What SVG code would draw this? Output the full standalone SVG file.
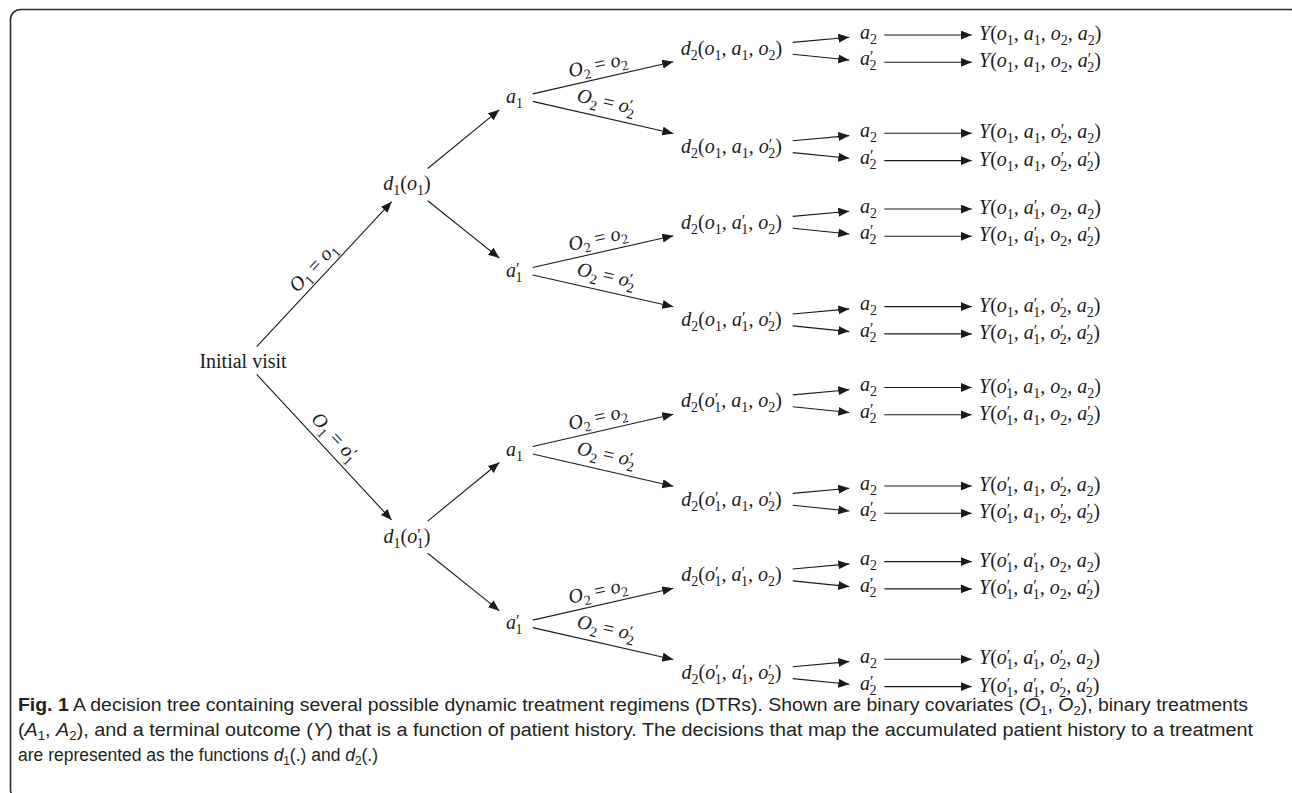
<svg xmlns="http://www.w3.org/2000/svg" width="1292" height="793" viewBox="0 0 1292 793">
<defs>
<marker id="ah" markerWidth="12" markerHeight="10" refX="11" refY="4.5" orient="auto" markerUnits="userSpaceOnUse"><path d="M0,0 L11,4.5 L0,9 Z" fill="#1a1a1a"/></marker>
</defs>
<style>
.m{font-family:"Liberation Serif","Times New Roman",serif;font-size:20px;font-style:italic;fill:#1a1a1a}
.up{font-family:"Liberation Serif","Times New Roman",serif;font-size:20px;fill:#1a1a1a}
.rm{font-style:normal}
.sb{font-size:14px;font-style:normal;baseline-shift:-5px}
.pr{font-size:16px;font-style:normal;baseline-shift:3px}
.e{stroke:#1a1a1a;stroke-width:1.1;fill:none;marker-end:url(#ah)}
.cap{font-family:"Liberation Sans",Arial,sans-serif;font-size:18px;fill:#231f20}
.cs{font-size:12px;baseline-shift:-4px}
.frame{fill:none;stroke:#2a2a2a;stroke-width:1.6}
</style>
<rect class="frame" x="10.5" y="9.5" width="1289.5" height="790" rx="10"/>
<g id="connectors">
<path class="e" d="M256.7,346.7 L391.7,201.7"/>
<path class="e" d="M256.7,374.3 L391.7,520"/>
<path class="e" d="M427.7,168.5 L499.3,109.85"/>
<path class="e" d="M427.7,200.7 L499.3,258"/>
<path class="e" d="M427.7,521.1 L499.3,462.45"/>
<path class="e" d="M427.7,553.3 L499.3,610.65"/>
<path class="e" d="M532.7,93.85 L673.3,61.7"/>
<path class="e" d="M532.7,101.35 L673.3,133.5"/>
<path class="e" d="M532.7,267.5 L673.3,235.7"/>
<path class="e" d="M532.7,275 L673.3,306.8"/>
<path class="e" d="M532.7,446.45 L673.3,414.2"/>
<path class="e" d="M532.7,453.95 L673.3,486.2"/>
<path class="e" d="M532.7,620.15 L673.3,588.3"/>
<path class="e" d="M532.7,627.65 L673.3,659.5"/>
<path class="e" d="M792.7,42.4 L849.3,37.3"/>
<path class="e" d="M792.7,54.3 L849.3,60"/>
<path class="e" d="M792.7,140.7 L849.3,135.6"/>
<path class="e" d="M792.7,152.6 L849.3,158.3"/>
<path class="e" d="M792.7,216.4 L849.3,211.3"/>
<path class="e" d="M792.7,228.3 L849.3,234"/>
<path class="e" d="M792.7,314 L849.3,308.9"/>
<path class="e" d="M792.7,325.9 L849.3,331.6"/>
<path class="e" d="M792.7,394.9 L849.3,389.8"/>
<path class="e" d="M792.7,406.8 L849.3,412.5"/>
<path class="e" d="M792.7,493.4 L849.3,488.3"/>
<path class="e" d="M792.7,505.3 L849.3,511"/>
<path class="e" d="M792.7,569 L849.3,563.9"/>
<path class="e" d="M792.7,580.9 L849.3,586.6"/>
<path class="e" d="M792.7,666.7 L849.3,661.6"/>
<path class="e" d="M792.7,678.6 L849.3,684.3"/>
<path class="e" d="M884.3,35 L971.7,35"/>
<path class="e" d="M884.3,62.3 L971.7,62.3"/>
<path class="e" d="M884.3,133.3 L971.7,133.3"/>
<path class="e" d="M884.3,160.6 L971.7,160.6"/>
<path class="e" d="M884.3,209 L971.7,209"/>
<path class="e" d="M884.3,236.3 L971.7,236.3"/>
<path class="e" d="M884.3,306.6 L971.7,306.6"/>
<path class="e" d="M884.3,333.9 L971.7,333.9"/>
<path class="e" d="M884.3,387.5 L971.7,387.5"/>
<path class="e" d="M884.3,414.8 L971.7,414.8"/>
<path class="e" d="M884.3,486 L971.7,486"/>
<path class="e" d="M884.3,513.3 L971.7,513.3"/>
<path class="e" d="M884.3,561.6 L971.7,561.6"/>
<path class="e" d="M884.3,588.9 L971.7,588.9"/>
<path class="e" d="M884.3,659.3 L971.7,659.3"/>
<path class="e" d="M884.3,686.6 L971.7,686.6"/>
<g id="edge-labels">
<text class="m" transform="translate(317.7,271.4) rotate(-47)" text-anchor="middle">O<tspan class="sb">1</tspan><tspan class="rm"> = </tspan>o<tspan class="sb">1</tspan></text>
<text class="m" transform="translate(330.3,441.4) rotate(47.2)" text-anchor="middle">O<tspan class="sb">1</tspan><tspan class="rm"> = </tspan>o<tspan class="pr">′</tspan><tspan class="sb" dx="-4">1</tspan></text>
<text class="m" transform="translate(599.1,70.85) rotate(-12.8)" text-anchor="middle">O<tspan class="sb">2</tspan><tspan class="rm"> = </tspan>o<tspan class="sb">2</tspan></text>
<text class="m" transform="translate(604.9,107.85) rotate(12.8)" text-anchor="middle">O<tspan class="sb">2</tspan><tspan class="rm"> = </tspan>o<tspan class="pr">′</tspan><tspan class="sb" dx="-4">2</tspan></text>
<text class="m" transform="translate(599.1,244.5) rotate(-12.8)" text-anchor="middle">O<tspan class="sb">2</tspan><tspan class="rm"> = </tspan>o<tspan class="sb">2</tspan></text>
<text class="m" transform="translate(604.9,281.5) rotate(12.8)" text-anchor="middle">O<tspan class="sb">2</tspan><tspan class="rm"> = </tspan>o<tspan class="pr">′</tspan><tspan class="sb" dx="-4">2</tspan></text>
<text class="m" transform="translate(599.1,423.45) rotate(-12.8)" text-anchor="middle">O<tspan class="sb">2</tspan><tspan class="rm"> = </tspan>o<tspan class="sb">2</tspan></text>
<text class="m" transform="translate(604.9,460.45) rotate(12.8)" text-anchor="middle">O<tspan class="sb">2</tspan><tspan class="rm"> = </tspan>o<tspan class="pr">′</tspan><tspan class="sb" dx="-4">2</tspan></text>
<text class="m" transform="translate(599.1,597.15) rotate(-12.8)" text-anchor="middle">O<tspan class="sb">2</tspan><tspan class="rm"> = </tspan>o<tspan class="sb">2</tspan></text>
<text class="m" transform="translate(604.9,634.15) rotate(12.8)" text-anchor="middle">O<tspan class="sb">2</tspan><tspan class="rm"> = </tspan>o<tspan class="pr">′</tspan><tspan class="sb" dx="-4">2</tspan></text>
</g>
</g>
<g id="n-initial"><text class="up" x="243" y="368" text-anchor="middle">Initial visit</text></g>
<g id="n-d1-o1"><text class="m" x="407" y="190" text-anchor="middle">d<tspan class="sb">1</tspan><tspan class="rm">(</tspan>o<tspan class="sb">1</tspan><tspan class="rm">)</tspan></text></g>
<g id="n-d1-o1p"><text class="m" x="407" y="543" text-anchor="middle">d<tspan class="sb">1</tspan><tspan class="rm">(</tspan>o<tspan class="pr">′</tspan><tspan class="sb" dx="-4">1</tspan><tspan class="rm">)</tspan></text></g>
<g id="n-a1-A"><text class="m" x="506" y="102.5">a<tspan class="sb">1</tspan></text></g>
<g id="n-a1p-B"><text class="m" x="506" y="276.5">a<tspan class="pr">′</tspan><tspan class="sb" dx="-4">1</tspan></text></g>
<g id="n-a1-C"><text class="m" x="506" y="455.5">a<tspan class="sb">1</tspan></text></g>
<g id="n-a1p-D"><text class="m" x="506" y="629">a<tspan class="pr">′</tspan><tspan class="sb" dx="-4">1</tspan></text></g>
<g id="n-d2-g1"><text class="m" x="731.5" y="54.7" text-anchor="middle">d<tspan class="sb">2</tspan><tspan class="rm">(</tspan>o<tspan class="sb">1</tspan>, a<tspan class="sb">1</tspan>, o<tspan class="sb">2</tspan><tspan class="rm">)</tspan></text></g>
<g id="n-d2-g2"><text class="m" x="731.5" y="153" text-anchor="middle">d<tspan class="sb">2</tspan><tspan class="rm">(</tspan>o<tspan class="sb">1</tspan>, a<tspan class="sb">1</tspan>, o<tspan class="pr">′</tspan><tspan class="sb" dx="-4">2</tspan><tspan class="rm">)</tspan></text></g>
<g id="n-d2-g3"><text class="m" x="731.5" y="228.7" text-anchor="middle">d<tspan class="sb">2</tspan><tspan class="rm">(</tspan>o<tspan class="sb">1</tspan>, a<tspan class="pr">′</tspan><tspan class="sb" dx="-4">1</tspan>, o<tspan class="sb">2</tspan><tspan class="rm">)</tspan></text></g>
<g id="n-d2-g4"><text class="m" x="731.5" y="326.3" text-anchor="middle">d<tspan class="sb">2</tspan><tspan class="rm">(</tspan>o<tspan class="sb">1</tspan>, a<tspan class="pr">′</tspan><tspan class="sb" dx="-4">1</tspan>, o<tspan class="pr">′</tspan><tspan class="sb" dx="-4">2</tspan><tspan class="rm">)</tspan></text></g>
<g id="n-d2-g5"><text class="m" x="731.5" y="407.2" text-anchor="middle">d<tspan class="sb">2</tspan><tspan class="rm">(</tspan>o<tspan class="pr">′</tspan><tspan class="sb" dx="-4">1</tspan>, a<tspan class="sb">1</tspan>, o<tspan class="sb">2</tspan><tspan class="rm">)</tspan></text></g>
<g id="n-d2-g6"><text class="m" x="731.5" y="505.7" text-anchor="middle">d<tspan class="sb">2</tspan><tspan class="rm">(</tspan>o<tspan class="pr">′</tspan><tspan class="sb" dx="-4">1</tspan>, a<tspan class="sb">1</tspan>, o<tspan class="pr">′</tspan><tspan class="sb" dx="-4">2</tspan><tspan class="rm">)</tspan></text></g>
<g id="n-d2-g7"><text class="m" x="731.5" y="581.3" text-anchor="middle">d<tspan class="sb">2</tspan><tspan class="rm">(</tspan>o<tspan class="pr">′</tspan><tspan class="sb" dx="-4">1</tspan>, a<tspan class="pr">′</tspan><tspan class="sb" dx="-4">1</tspan>, o<tspan class="sb">2</tspan><tspan class="rm">)</tspan></text></g>
<g id="n-d2-g8"><text class="m" x="731.5" y="679" text-anchor="middle">d<tspan class="sb">2</tspan><tspan class="rm">(</tspan>o<tspan class="pr">′</tspan><tspan class="sb" dx="-4">1</tspan>, a<tspan class="pr">′</tspan><tspan class="sb" dx="-4">1</tspan>, o<tspan class="pr">′</tspan><tspan class="sb" dx="-4">2</tspan><tspan class="rm">)</tspan></text></g>
<g id="n-a2-row1"><text class="m" x="860" y="38.5">a<tspan class="sb">2</tspan></text></g>
<g id="n-a2p-row2"><text class="m" x="860" y="65.3">a<tspan class="pr">′</tspan><tspan class="sb" dx="-4">2</tspan></text></g>
<g id="n-a2-row3"><text class="m" x="860" y="136.8">a<tspan class="sb">2</tspan></text></g>
<g id="n-a2p-row4"><text class="m" x="860" y="163.6">a<tspan class="pr">′</tspan><tspan class="sb" dx="-4">2</tspan></text></g>
<g id="n-a2-row5"><text class="m" x="860" y="212.5">a<tspan class="sb">2</tspan></text></g>
<g id="n-a2p-row6"><text class="m" x="860" y="239.3">a<tspan class="pr">′</tspan><tspan class="sb" dx="-4">2</tspan></text></g>
<g id="n-a2-row7"><text class="m" x="860" y="310.1">a<tspan class="sb">2</tspan></text></g>
<g id="n-a2p-row8"><text class="m" x="860" y="336.9">a<tspan class="pr">′</tspan><tspan class="sb" dx="-4">2</tspan></text></g>
<g id="n-a2-row9"><text class="m" x="860" y="391">a<tspan class="sb">2</tspan></text></g>
<g id="n-a2p-row10"><text class="m" x="860" y="417.8">a<tspan class="pr">′</tspan><tspan class="sb" dx="-4">2</tspan></text></g>
<g id="n-a2-row11"><text class="m" x="860" y="489.5">a<tspan class="sb">2</tspan></text></g>
<g id="n-a2p-row12"><text class="m" x="860" y="516.3">a<tspan class="pr">′</tspan><tspan class="sb" dx="-4">2</tspan></text></g>
<g id="n-a2-row13"><text class="m" x="860" y="565.1">a<tspan class="sb">2</tspan></text></g>
<g id="n-a2p-row14"><text class="m" x="860" y="591.9">a<tspan class="pr">′</tspan><tspan class="sb" dx="-4">2</tspan></text></g>
<g id="n-a2-row15"><text class="m" x="860" y="662.8">a<tspan class="sb">2</tspan></text></g>
<g id="n-a2p-row16"><text class="m" x="860" y="689.6">a<tspan class="pr">′</tspan><tspan class="sb" dx="-4">2</tspan></text></g>
<g id="n-y1"><text class="m" x="979" y="40">Y<tspan class="rm">(</tspan>o<tspan class="sb">1</tspan>, a<tspan class="sb">1</tspan>, o<tspan class="sb">2</tspan>, a<tspan class="sb">2</tspan><tspan class="rm">)</tspan></text></g>
<g id="n-y2"><text class="m" x="979" y="67.3">Y<tspan class="rm">(</tspan>o<tspan class="sb">1</tspan>, a<tspan class="sb">1</tspan>, o<tspan class="sb">2</tspan>, a<tspan class="pr">′</tspan><tspan class="sb" dx="-4">2</tspan><tspan class="rm">)</tspan></text></g>
<g id="n-y3"><text class="m" x="979" y="138.3">Y<tspan class="rm">(</tspan>o<tspan class="sb">1</tspan>, a<tspan class="sb">1</tspan>, o<tspan class="pr">′</tspan><tspan class="sb" dx="-4">2</tspan>, a<tspan class="sb">2</tspan><tspan class="rm">)</tspan></text></g>
<g id="n-y4"><text class="m" x="979" y="165.6">Y<tspan class="rm">(</tspan>o<tspan class="sb">1</tspan>, a<tspan class="sb">1</tspan>, o<tspan class="pr">′</tspan><tspan class="sb" dx="-4">2</tspan>, a<tspan class="pr">′</tspan><tspan class="sb" dx="-4">2</tspan><tspan class="rm">)</tspan></text></g>
<g id="n-y5"><text class="m" x="979" y="214">Y<tspan class="rm">(</tspan>o<tspan class="sb">1</tspan>, a<tspan class="pr">′</tspan><tspan class="sb" dx="-4">1</tspan>, o<tspan class="sb">2</tspan>, a<tspan class="sb">2</tspan><tspan class="rm">)</tspan></text></g>
<g id="n-y6"><text class="m" x="979" y="241.3">Y<tspan class="rm">(</tspan>o<tspan class="sb">1</tspan>, a<tspan class="pr">′</tspan><tspan class="sb" dx="-4">1</tspan>, o<tspan class="sb">2</tspan>, a<tspan class="pr">′</tspan><tspan class="sb" dx="-4">2</tspan><tspan class="rm">)</tspan></text></g>
<g id="n-y7"><text class="m" x="979" y="311.6">Y<tspan class="rm">(</tspan>o<tspan class="sb">1</tspan>, a<tspan class="pr">′</tspan><tspan class="sb" dx="-4">1</tspan>, o<tspan class="pr">′</tspan><tspan class="sb" dx="-4">2</tspan>, a<tspan class="sb">2</tspan><tspan class="rm">)</tspan></text></g>
<g id="n-y8"><text class="m" x="979" y="338.9">Y<tspan class="rm">(</tspan>o<tspan class="sb">1</tspan>, a<tspan class="pr">′</tspan><tspan class="sb" dx="-4">1</tspan>, o<tspan class="pr">′</tspan><tspan class="sb" dx="-4">2</tspan>, a<tspan class="pr">′</tspan><tspan class="sb" dx="-4">2</tspan><tspan class="rm">)</tspan></text></g>
<g id="n-y9"><text class="m" x="979" y="392.5">Y<tspan class="rm">(</tspan>o<tspan class="pr">′</tspan><tspan class="sb" dx="-4">1</tspan>, a<tspan class="sb">1</tspan>, o<tspan class="sb">2</tspan>, a<tspan class="sb">2</tspan><tspan class="rm">)</tspan></text></g>
<g id="n-y10"><text class="m" x="979" y="419.8">Y<tspan class="rm">(</tspan>o<tspan class="pr">′</tspan><tspan class="sb" dx="-4">1</tspan>, a<tspan class="sb">1</tspan>, o<tspan class="sb">2</tspan>, a<tspan class="pr">′</tspan><tspan class="sb" dx="-4">2</tspan><tspan class="rm">)</tspan></text></g>
<g id="n-y11"><text class="m" x="979" y="491">Y<tspan class="rm">(</tspan>o<tspan class="pr">′</tspan><tspan class="sb" dx="-4">1</tspan>, a<tspan class="sb">1</tspan>, o<tspan class="pr">′</tspan><tspan class="sb" dx="-4">2</tspan>, a<tspan class="sb">2</tspan><tspan class="rm">)</tspan></text></g>
<g id="n-y12"><text class="m" x="979" y="518.3">Y<tspan class="rm">(</tspan>o<tspan class="pr">′</tspan><tspan class="sb" dx="-4">1</tspan>, a<tspan class="sb">1</tspan>, o<tspan class="pr">′</tspan><tspan class="sb" dx="-4">2</tspan>, a<tspan class="pr">′</tspan><tspan class="sb" dx="-4">2</tspan><tspan class="rm">)</tspan></text></g>
<g id="n-y13"><text class="m" x="979" y="566.6">Y<tspan class="rm">(</tspan>o<tspan class="pr">′</tspan><tspan class="sb" dx="-4">1</tspan>, a<tspan class="pr">′</tspan><tspan class="sb" dx="-4">1</tspan>, o<tspan class="sb">2</tspan>, a<tspan class="sb">2</tspan><tspan class="rm">)</tspan></text></g>
<g id="n-y14"><text class="m" x="979" y="593.9">Y<tspan class="rm">(</tspan>o<tspan class="pr">′</tspan><tspan class="sb" dx="-4">1</tspan>, a<tspan class="pr">′</tspan><tspan class="sb" dx="-4">1</tspan>, o<tspan class="sb">2</tspan>, a<tspan class="pr">′</tspan><tspan class="sb" dx="-4">2</tspan><tspan class="rm">)</tspan></text></g>
<g id="n-y15"><text class="m" x="979" y="664.3">Y<tspan class="rm">(</tspan>o<tspan class="pr">′</tspan><tspan class="sb" dx="-4">1</tspan>, a<tspan class="pr">′</tspan><tspan class="sb" dx="-4">1</tspan>, o<tspan class="pr">′</tspan><tspan class="sb" dx="-4">2</tspan>, a<tspan class="sb">2</tspan><tspan class="rm">)</tspan></text></g>
<g id="n-y16"><text class="m" x="979" y="691.6">Y<tspan class="rm">(</tspan>o<tspan class="pr">′</tspan><tspan class="sb" dx="-4">1</tspan>, a<tspan class="pr">′</tspan><tspan class="sb" dx="-4">1</tspan>, o<tspan class="pr">′</tspan><tspan class="sb" dx="-4">2</tspan>, a<tspan class="pr">′</tspan><tspan class="sb" dx="-4">2</tspan><tspan class="rm">)</tspan></text></g>
<g id="caption">
<text class="cap" x="18" y="711" textLength="1230" lengthAdjust="spacingAndGlyphs"><tspan font-weight="bold">Fig. 1</tspan> A decision tree containing several possible dynamic treatment regimens (DTRs). Shown are binary covariates (<tspan font-style="italic">O</tspan><tspan class="cs">1</tspan>, <tspan font-style="italic">O</tspan><tspan class="cs">2</tspan>), binary treatments</text>
<text class="cap" x="18" y="736" textLength="1235" lengthAdjust="spacingAndGlyphs">(<tspan font-style="italic">A</tspan><tspan class="cs">1</tspan>, <tspan font-style="italic">A</tspan><tspan class="cs">2</tspan>), and a terminal outcome (<tspan font-style="italic">Y</tspan>) that is a function of patient history. The decisions that map the accumulated patient history to a treatment</text>
<text class="cap" x="18" y="761" textLength="360" lengthAdjust="spacingAndGlyphs">are represented as the functions <tspan font-style="italic">d</tspan><tspan class="cs">1</tspan>(.) and <tspan font-style="italic">d</tspan><tspan class="cs">2</tspan>(.)</text>
</g>
</svg>
